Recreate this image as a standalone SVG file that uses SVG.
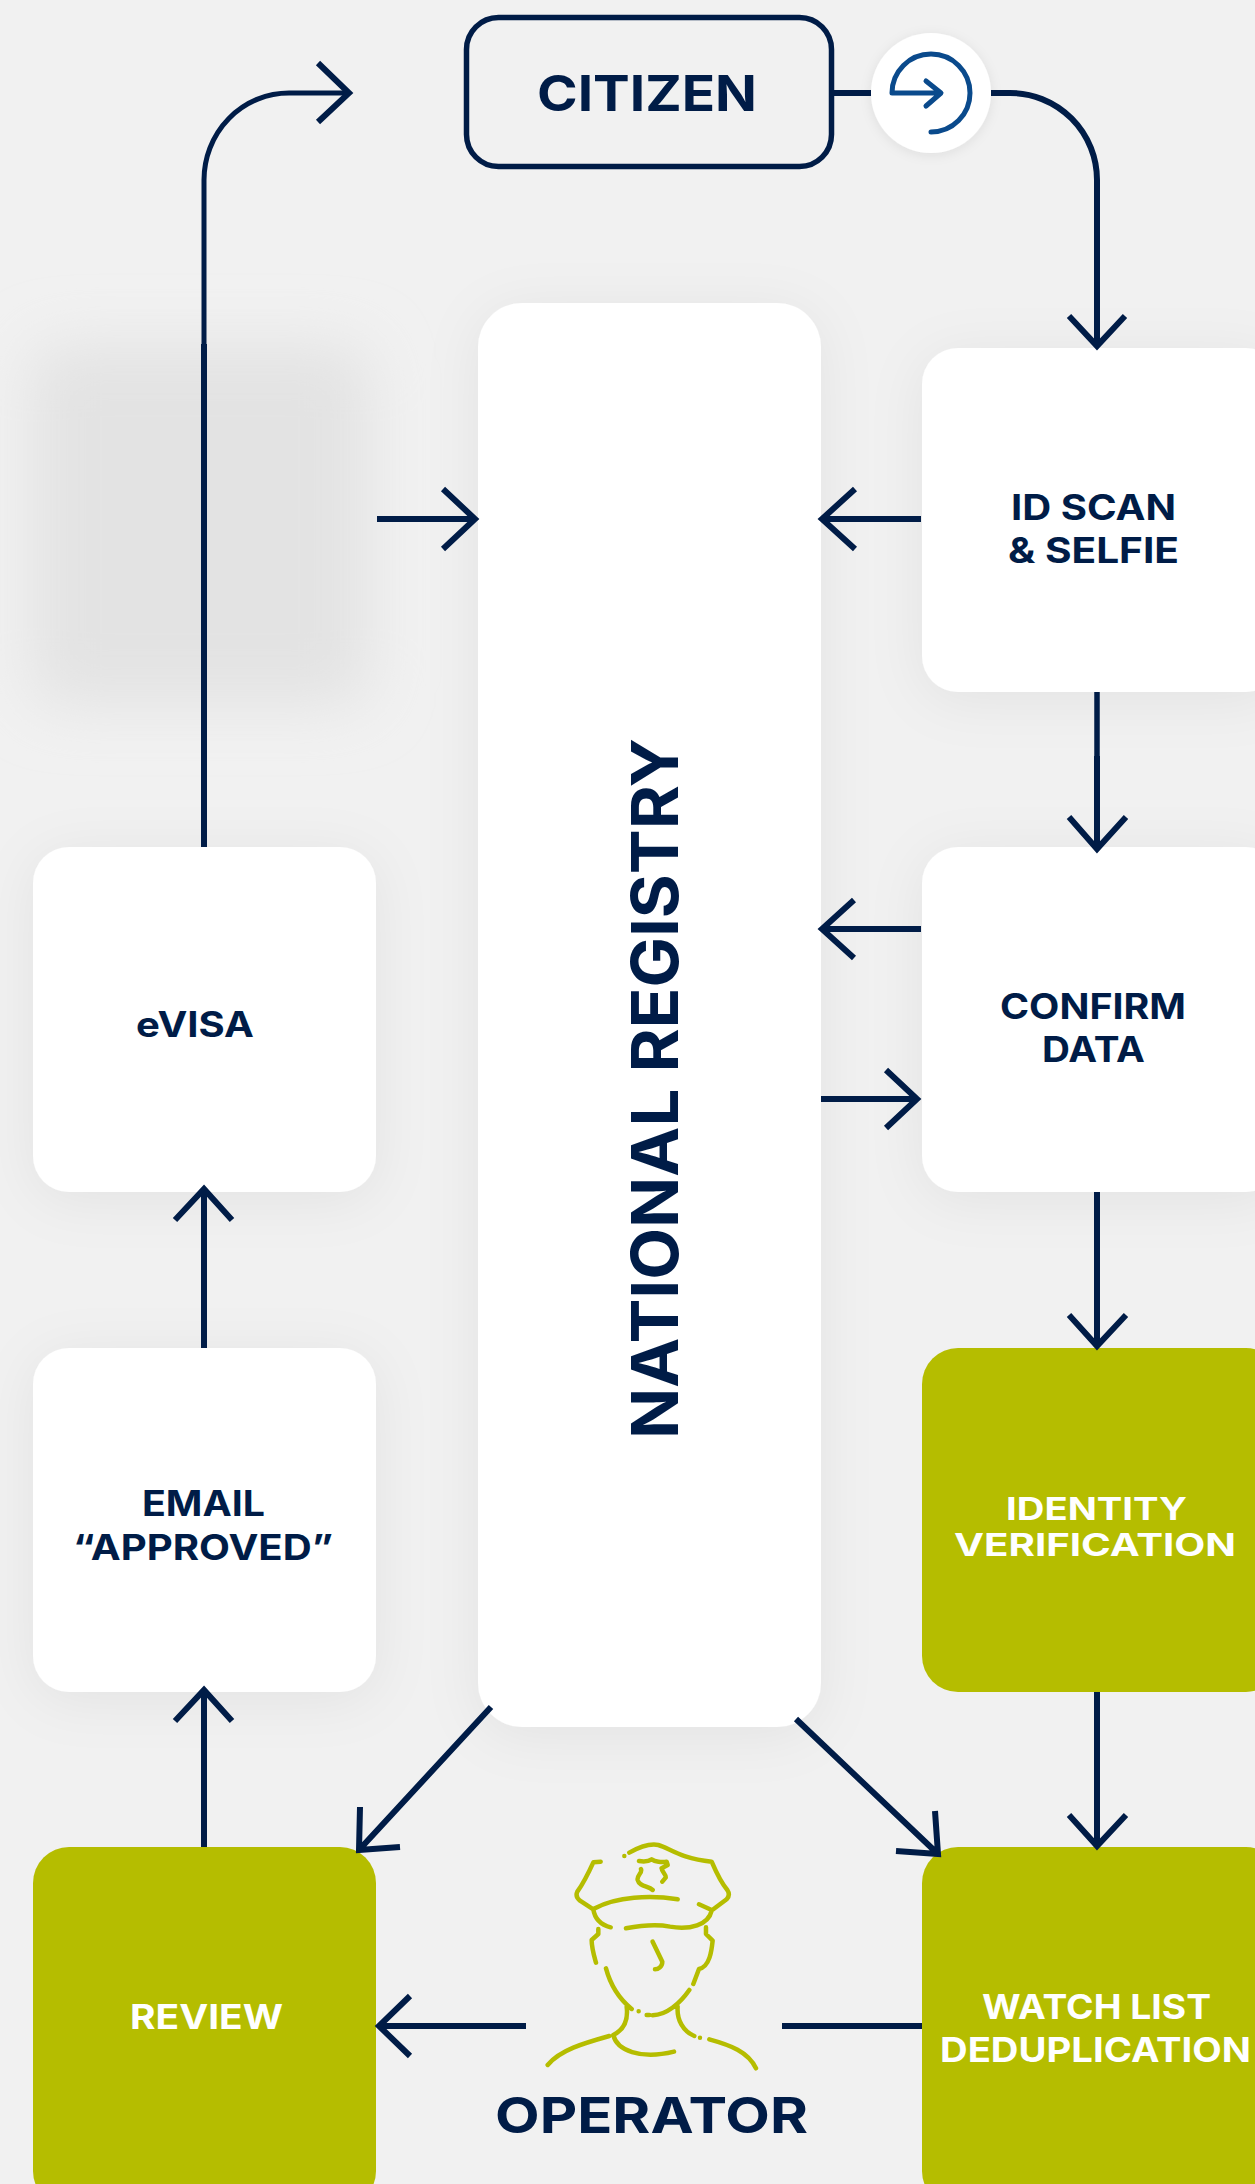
<svg xmlns="http://www.w3.org/2000/svg" width="1255" height="2184" viewBox="0 0 1255 2184">
<defs>
<filter id="sh" x="-40%" y="-40%" width="180%" height="180%"><feDropShadow dx="0" dy="8" stdDeviation="28" flood-color="#000" flood-opacity="0.06"/></filter>
<filter id="shc" x="-40%" y="-40%" width="180%" height="180%"><feDropShadow dx="0" dy="2" stdDeviation="6" flood-color="#000" flood-opacity="0.08"/></filter>
<filter id="blur" x="-40%" y="-40%" width="180%" height="180%"><feGaussianBlur stdDeviation="30"/></filter>
</defs>
<style>
.bg{fill:#f1f1f1}
.w{fill:#fff;filter:url(#sh)}
.o{fill:#b5bd00}
.l{fill:none;stroke:#001c47;stroke-width:6}
.i{fill:none;stroke:#b5bd00;stroke-width:13.5;stroke-linecap:round;stroke-linejoin:round}
text{font-family:"Inter","Liberation Sans",sans-serif;font-weight:750;fill:#001c47}
.t{font-size:35px}
.v{font-size:31px;fill:#fff}
.s{font-size:34px}
</style>
<rect class="bg" width="1255" height="2184"/>
<rect x="30" y="345" width="340" height="360" rx="30" fill="#e3e3e3" filter="url(#blur)"/>
<g id="citizen"><rect x="466.5" y="17.5" width="365" height="149" rx="32" fill="none" stroke="#001c47" stroke-width="5.5"/><text x="537" y="111" font-size="50" textLength="220" lengthAdjust="spacingAndGlyphs">CITIZEN</text></g>
<g id="start"><circle cx="931" cy="93" r="60" fill="#fff" filter="url(#shc)"/><path d="M892 93A39 39 0 1 1 931 132M892 93H940M926 81L941 93L926 106" fill="none" stroke="#0a4a8c" stroke-width="5" stroke-linecap="round" stroke-linejoin="round"/></g>
<g id="registry"><rect class="w" x="478" y="303" width="343" height="1424" rx="44"/><text transform="translate(678 1439) rotate(-90)" font-size="64" textLength="701" lengthAdjust="spacingAndGlyphs">NATIONAL REGISTRY</text></g>
<g id="idscan"><rect class="w" x="922" y="348" width="360" height="344" rx="36"/><text class="t" x="1011" y="520" textLength="165" lengthAdjust="spacingAndGlyphs">ID SCAN</text><text class="t" x="1008" y="563" textLength="171" lengthAdjust="spacingAndGlyphs">&amp; SELFIE</text></g>
<g id="confirm"><rect class="w" x="922" y="847" width="360" height="345" rx="36"/><text class="t" x="1000" y="1019" textLength="186" lengthAdjust="spacingAndGlyphs">CONFIRM</text><text class="t" x="1042" y="1062" textLength="103" lengthAdjust="spacingAndGlyphs">DATA</text></g>
<g id="identity"><rect class="o" x="922" y="1348" width="360" height="344" rx="36"/><text class="v" x="1006" y="1520" textLength="181" lengthAdjust="spacingAndGlyphs">IDENTITY</text><text class="v" x="954" y="1556" textLength="282" lengthAdjust="spacingAndGlyphs">VERIFICATION</text></g>
<g id="watch"><rect class="o" x="922" y="1847" width="360" height="360" rx="36"/><text class="v s" x="982" y="2019" textLength="229" lengthAdjust="spacingAndGlyphs">WATCH LIST</text><text class="v s" x="940" y="2062" textLength="311" lengthAdjust="spacingAndGlyphs">DEDUPLICATION</text></g>
<g id="evisa"><rect class="w" x="33" y="847" width="343" height="345" rx="36"/><text class="t" x="136" y="1037" textLength="118" lengthAdjust="spacingAndGlyphs">eVISA</text></g>
<g id="email"><rect class="w" x="33" y="1348" width="343" height="344" rx="36"/><text class="t" x="142" y="1516" textLength="123" lengthAdjust="spacingAndGlyphs">EMAIL</text><text class="t" x="73" y="1560" textLength="260" lengthAdjust="spacingAndGlyphs">“APPROVED”</text></g>
<g id="review"><rect class="o" x="33" y="1847" width="343" height="360" rx="36"/><text class="v s" x="130" y="2029" textLength="153" lengthAdjust="spacingAndGlyphs">REVIEW</text></g>
<g id="operator">
<g transform="translate(500 1780) scale(.3333)"><path class="i" d="M373 228V228M388 218C420 200 450 190 475 195C510 205 540 235 635 245C650 280 665 310 682 330Q692 345 680 358L640 388M302 245L280 247C265 280 250 310 232 335Q225 350 240 362L280 388M285 385C350 350 450 345 533 358M597 373L635 390M280 388C285 420 305 435 332 442M378 445C430 435 470 432 510 440C570 450 625 435 635 392M417 243C430 245 445 245 455 238C465 245 485 248 500 245L503 255L485 265M423 267C428 280 410 285 413 300C418 320 445 318 458 330M485 265C485 275 500 285 497 293L487 305M295 447V462L275 480C275 505 283 530 288 548M618 442V462L638 482C635 510 630 560 597 567L580 612M318 565C330 610 350 650 395 687M416 694V694M440 705H448M458 706C500 705 540 670 568 630M458 485L487 545C487 560 475 568 465 568M380 680C385 720 370 750 340 765M533 680C530 720 550 755 583 768M600 773V773M340 765C350 810 420 840 522 815M143 855C180 810 250 790 328 768M628 778C690 795 745 815 768 865"/></g>
<text x="495" y="2133" font-size="50" textLength="313" lengthAdjust="spacingAndGlyphs">OPERATOR</text>
</g>
<g id="connectors">
<path class="l" style="stroke-width:5" d="M204 344V180A85 87 0 0 1 289 93H345"/>
<path class="l" d="M204 847V344M318 63L349 93L318 122"/>
<path class="l" d="M832 93H871M991 93H1010A87 87 0 0 1 1097 180V345M1069 316L1097 346L1125 316"/>
<path class="l" d="M377 519H472M443 489L475 519L443 549"/>
<path class="l" d="M921 519H825M855 489L822 519L855 549"/>
<path class="l" style="stroke-width:5.5" d="M1097 692V756"/>
<path class="l" d="M1097 756V846M1069 817L1097 849L1126 817"/>
<path class="l" d="M921 929H825M854 900L822 929L854 958"/>
<path class="l" d="M821 1099H914M886 1070L917 1099L886 1128"/>
<path class="l" d="M1097 1192V1343M1069 1315L1097 1346L1126 1315"/>
<path class="l" d="M1097 1692V1843M1069 1815L1097 1846L1126 1815"/>
<path class="l" d="M204 1348V1192M175 1220L204 1189L232 1220"/>
<path class="l" d="M204 1847V1693M175 1721L204 1690L232 1721"/>
<path class="l" d="M491 1707L359 1850M360 1807L359 1850L400 1847"/>
<path class="l" d="M796 1719L938 1854M935 1811L938 1854L896 1851"/>
<path class="l" d="M526 2026H382M410 1996L379 2026L410 2056"/>
<path class="l" d="M782 2026H922"/>
</g>
</svg>
